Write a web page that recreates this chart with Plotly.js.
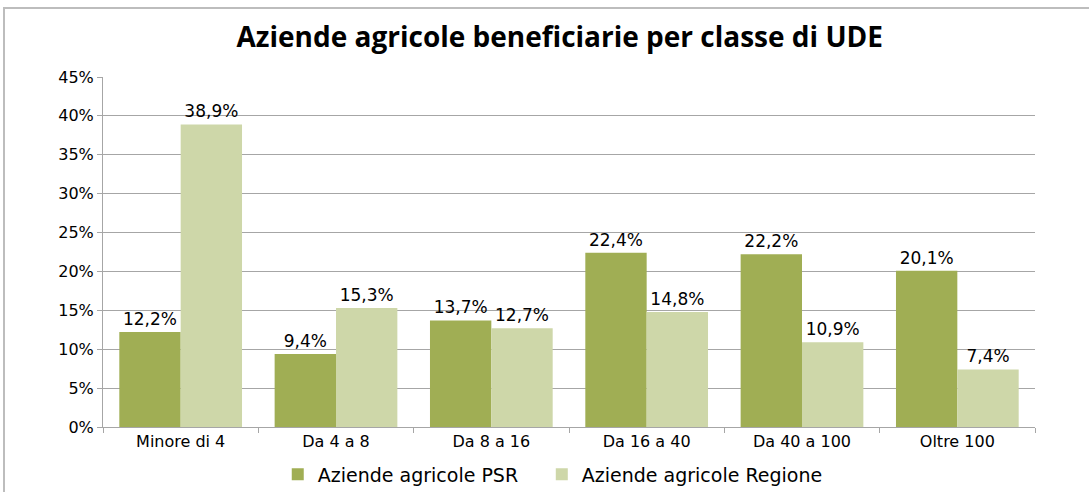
<!DOCTYPE html>
<html><head><meta charset="utf-8">
<script src="https://cdn.plot.ly/plotly-3.0.1.min.js"></script>
<style>
html,body{margin:0;padding:0;background:#fff;}
#frame{position:absolute;left:3px;top:7px;width:1086px;height:485px;border-top:2px solid #bdbdbd;border-left:2px solid #bdbdbd;box-sizing:border-box;pointer-events:none;z-index:5;}
#chart{width:1089px;height:492px;}
</style></head>
<body>
<div id="frame"></div>
<div id="chart"></div>
<script>
const categories = ["Minore di 4", "Da 4 a 8", "Da 8 a 16", "Da 16 a 40", "Da 40 a 100", "Oltre 100"];
const psrValues = [12.2, 9.4, 13.7, 22.4, 22.2, 20.1];
const regioneValues = [38.9, 15.3, 12.7, 14.8, 10.9, 7.4];
const seriesNames = ["Aziende agricole PSR", "Aziende agricole Regione"];
const yTickVals = [0, 5, 10, 15, 20, 25, 30, 35, 40, 45];
const yTickLabels = ["0%", "5%", "10%", "15%", "20%", "25%", "30%", "35%", "40%", "45%"];

const FAM = "DejaVu Sans";
const labelFont = {family: FAM, size: 17, color: "#000"};
const legendFont = {family: FAM, size: 19, color: "#000"};
const traces = [
  {type: "bar", name: seriesNames[0], x: categories, y: psrValues, legend: "legend",
   marker: {color: "#A0AE54"}, texttemplate: "%{y:.1f}%", textposition: "outside",
   textfont: labelFont, cliponaxis: false, hoverinfo: "x+y"},
  {type: "bar", name: seriesNames[1], x: categories, y: regioneValues, legend: "legend2",
   marker: {color: "#CED7A9"}, texttemplate: "%{y:.1f}%", textposition: "outside",
   textfont: labelFont, cliponaxis: false, hoverinfo: "x+y"}
];
const layout = {
  width: 1089, height: 492,
  margin: {l: 103, r: 54, t: 77, b: 65, autoexpand: false},
  paper_bgcolor: "#fff", plot_bgcolor: "#fff",
  separators: ",.",
  title: {text: "Aziende agricole beneficiarie per classe di UDE",
    font: {family: "Liberation Sans Narrow, Open Sans, sans-serif", size: 28, color: "#000", weight: "bold"},
    x: 0.514, xref: "container", xanchor: "center", y: 0.925, yref: "container", yanchor: "middle"},
  barmode: "group", bargap: 0.21, bargroupgap: 0,
  xaxis: {type: "category", showline: true, linecolor: "#a6a6a6", linewidth: 1, automargin: false,
    ticks: "outside", tickson: "boundaries", ticklen: 5, tickcolor: "#a6a6a6",
    tickfont: {family: FAM, size: 16, color: "#000"}, showgrid: false},
  yaxis: {range: [0, 45], tickmode: "array", tickvals: yTickVals, ticktext: yTickLabels, automargin: false,
    showline: true, linecolor: "#a6a6a6",
    linewidth: 1, ticks: "outside", ticklen: 5, tickcolor: "#a6a6a6",
    gridcolor: "#a6a6a6", gridwidth: 1, zeroline: false,
    tickfont: {family: FAM, size: 16, color: "#000"}},
  showlegend: true,
  legend: {orientation: "h", x: 0.1875, xanchor: "left", y: -0.081, yanchor: "top",
    font: legendFont, itemwidth: 30, bgcolor: "rgba(0,0,0,0)"},
  legend2: {orientation: "h", x: 0.4708, xanchor: "left", y: -0.081, yanchor: "top",
    font: legendFont, itemwidth: 30, bgcolor: "rgba(0,0,0,0)"}
};
Plotly.newPlot("chart", traces, layout, {displayModeBar: false, staticPlot: true});
</script>
</body></html>
